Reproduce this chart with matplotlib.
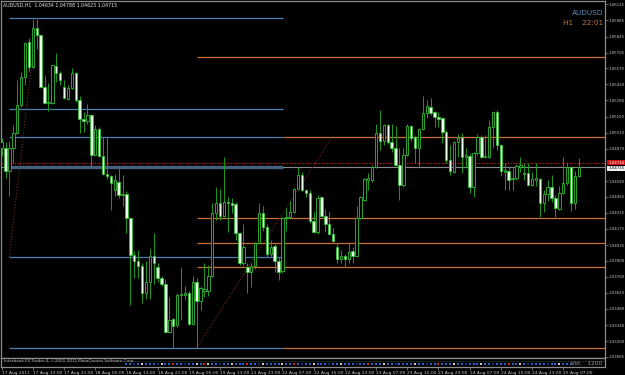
import matplotlib
matplotlib.use("Agg")
import matplotlib.pyplot as plt
import numpy as np

W, H = 625, 375

# AUDUSD H1 candles, 17 Aug 2011 05:00 -> 25 Aug 2011
opens = [1.0488, 1.0488, 1.0468, 1.0488, 1.0501, 1.0525, 1.0549, 1.0580, 1.0558, 1.0592,
         1.0586, 1.0541, 1.0527, 1.0527, 1.0559, 1.0553, 1.0541, 1.0530, 1.0540, 1.0553,
         1.0529, 1.0513, 1.0511, 1.0516, 1.0482, 1.0504, 1.0481, 1.0465, 1.0463, 1.0451,
         1.0458, 1.0447, 1.0448, 1.0427, 1.0395, 1.0390, 1.0385, 1.0362, 1.0371, 1.0394,
         1.0384, 1.0375, 1.0370, 1.0328, 1.0339, 1.0334, 1.0360, 1.0360, 1.0362, 1.0335,
         1.0371, 1.0355, 1.0364, 1.0364, 1.0377, 1.0431, 1.0440, 1.0429, 1.0441, 1.0440,
         1.0439, 1.0414, 1.0388, 1.0384, 1.0380, 1.0385, 1.0405, 1.0431, 1.0419, 1.0396,
         1.0403, 1.0390, 1.0381, 1.0427, 1.0428, 1.0432, 1.0452, 1.0464, 1.0451, 1.0449,
         1.0424, 1.0415, 1.0445, 1.0429, 1.0422, 1.0413, 1.0402, 1.0391, 1.0394, 1.0391,
         1.0398, 1.0394, 1.0427, 1.0443, 1.0460, 1.0460, 1.0471, 1.0501, 1.0494, 1.0508,
         1.0493, 1.0488, 1.0473, 1.0456, 1.0482, 1.0507, 1.0497, 1.0488, 1.0504, 1.0518,
         1.0523, 1.0519, 1.0515, 1.0514, 1.0502, 1.0477, 1.0467, 1.0493, 1.0497, 1.0480,
         1.0481, 1.0454, 1.0483, 1.0497, 1.0480, 1.0480, 1.0506, 1.0519, 1.0490, 1.0467,
         1.0468, 1.0461, 1.0462, 1.0471, 1.0465, 1.0466, 1.0456, 1.0460, 1.0461, 1.0440,
         1.0448, 1.0454, 1.0444, 1.0435, 1.0449, 1.0457, 1.0471, 1.0440, 1.04634]
highs = [1.0496, 1.0493, 1.0494, 1.0508, 1.0547, 1.0554, 1.0579, 1.0583, 1.0600, 1.0600,
         1.0587, 1.0550, 1.0544, 1.0560, 1.0570, 1.0555, 1.0547, 1.0542, 1.0557, 1.0554,
         1.0533, 1.0519, 1.0526, 1.0517, 1.0508, 1.0506, 1.0497, 1.0497, 1.0464, 1.0465,
         1.0472, 1.0464, 1.0450, 1.0428, 1.0398, 1.0399, 1.0388, 1.0390, 1.0400, 1.0414,
         1.0388, 1.0377, 1.0374, 1.0358, 1.0340, 1.0362, 1.0384, 1.0368, 1.0364, 1.0377,
         1.0375, 1.0368, 1.0388, 1.0386, 1.0440, 1.0454, 1.0452, 1.0480, 1.0445, 1.0444,
         1.0441, 1.0415, 1.0422, 1.0388, 1.0388, 1.0406, 1.0440, 1.0437, 1.0422, 1.0408,
         1.0405, 1.0393, 1.0428, 1.0436, 1.0442, 1.0453, 1.0471, 1.0467, 1.0452, 1.0451,
         1.0432, 1.0447, 1.0446, 1.0435, 1.0432, 1.0418, 1.0405, 1.0399, 1.0396, 1.0406,
         1.0402, 1.0437, 1.0446, 1.0462, 1.0466, 1.0473, 1.0509, 1.0521, 1.0509, 1.0509,
         1.0509, 1.0507, 1.0488, 1.0488, 1.0509, 1.0508, 1.0499, 1.0505, 1.0533, 1.0529,
         1.0531, 1.0520, 1.0519, 1.0515, 1.0503, 1.0490, 1.0494, 1.0500, 1.0501, 1.0488,
         1.0483, 1.0484, 1.0500, 1.0499, 1.0499, 1.0512, 1.0520, 1.0521, 1.0491, 1.0475,
         1.0472, 1.0471, 1.0474, 1.0480, 1.0475, 1.0475, 1.0467, 1.0475, 1.0462, 1.0451,
         1.0460, 1.0464, 1.0447, 1.0455, 1.0480, 1.0476, 1.0472, 1.0468, 1.04788]
lows = [1.0481, 1.0462, 1.0446, 1.0475, 1.0500, 1.0523, 1.0542, 1.0555, 1.0557, 1.0574,
        1.0540, 1.0526, 1.0520, 1.0526, 1.0545, 1.0542, 1.0530, 1.0529, 1.0539, 1.0528,
        1.0501, 1.0502, 1.0509, 1.0470, 1.0481, 1.0480, 1.0464, 1.0461, 1.0434, 1.0446,
        1.0444, 1.0437, 1.0414, 1.0351, 1.0375, 1.0375, 1.0353, 1.0357, 1.0357, 1.0370,
        1.0371, 1.0368, 1.0327, 1.0327, 1.0314, 1.0332, 1.0338, 1.0357, 1.0334, 1.0334,
        1.0314, 1.0347, 1.0358, 1.0359, 1.0376, 1.0425, 1.0425, 1.0428, 1.0415, 1.0431,
        1.0408, 1.0386, 1.0385, 1.0362, 1.0367, 1.0383, 1.0404, 1.0416, 1.0393, 1.0393,
        1.0380, 1.0373, 1.0379, 1.0416, 1.0427, 1.0431, 1.0451, 1.0450, 1.0445, 1.0423,
        1.0414, 1.0413, 1.0428, 1.0415, 1.0412, 1.0406, 1.0388, 1.0388, 1.0384, 1.0388,
        1.0388, 1.0393, 1.0426, 1.0442, 1.0451, 1.0458, 1.0470, 1.0486, 1.0490, 1.0491,
        1.0484, 1.0472, 1.0443, 1.0454, 1.0481, 1.0494, 1.0475, 1.0471, 1.0503, 1.0514,
        1.0516, 1.0506, 1.0506, 1.0492, 1.0475, 1.0464, 1.0466, 1.0480, 1.0466, 1.0470,
        1.0449, 1.0445, 1.0482, 1.0479, 1.0479, 1.0479, 1.0488, 1.0486, 1.0463, 1.0451,
        1.0451, 1.0451, 1.0460, 1.0467, 1.0460, 1.0455, 1.0455, 1.0455, 1.0428, 1.0432,
        1.0442, 1.0441, 1.0428, 1.0434, 1.0448, 1.0456, 1.0433, 1.0435, 1.04623]
closes = [1.0493, 1.0468, 1.0488, 1.0501, 1.0525, 1.0549, 1.0579, 1.0558, 1.0592, 1.0586,
          1.0541, 1.0527, 1.0528, 1.0560, 1.0553, 1.0547, 1.0531, 1.0540, 1.0553, 1.0529,
          1.0513, 1.0511, 1.0516, 1.0482, 1.0504, 1.0481, 1.0465, 1.0463, 1.0457, 1.0460,
          1.0447, 1.0448, 1.0427, 1.0395, 1.0390, 1.0385, 1.0362, 1.0371, 1.0394, 1.0388,
          1.0375, 1.0370, 1.0328, 1.0338, 1.0333, 1.0360, 1.0361, 1.0362, 1.0335, 1.0371,
          1.0355, 1.0366, 1.0365, 1.0377, 1.0431, 1.0440, 1.0429, 1.0441, 1.0440, 1.0438,
          1.0414, 1.0388, 1.0402, 1.0380, 1.0385, 1.0405, 1.0431, 1.0419, 1.0396, 1.0402,
          1.0390, 1.0380, 1.0427, 1.0428, 1.0432, 1.0452, 1.0464, 1.0451, 1.0449, 1.0424,
          1.0415, 1.0444, 1.0429, 1.0422, 1.0413, 1.0407, 1.0391, 1.0394, 1.0391, 1.0397,
          1.0394, 1.0427, 1.0445, 1.0461, 1.0462, 1.0471, 1.0501, 1.0494, 1.0508, 1.0493,
          1.0488, 1.0473, 1.0456, 1.0482, 1.0507, 1.0496, 1.0488, 1.0504, 1.0518, 1.0524,
          1.0518, 1.0515, 1.0513, 1.0502, 1.0477, 1.0468, 1.0493, 1.0496, 1.0480, 1.0482,
          1.0454, 1.0483, 1.0497, 1.0480, 1.0481, 1.0506, 1.0519, 1.0490, 1.0468, 1.0469,
          1.0460, 1.0462, 1.0472, 1.0473, 1.0466, 1.0456, 1.0461, 1.0462, 1.0440, 1.0448,
          1.0454, 1.0444, 1.0436, 1.0449, 1.0457, 1.0471, 1.0440, 1.0463, 1.04715]

# indicator squares in the volume sub-window (b blue, n navy, w pale, r red, '.' none)
vol_marks = ("................................"
             "bbnbwbbbnwbbrbbnbbwb"
             "rwbbnbbwbbbrbbnwbbbbwbbrbnbbwbbbnbb"
             "wbbbnbbrbbbwbbnbbbbwbbnbbrbbbwbbnbb"
             "bwbbnbbbrbbwbnbbbbnbbwbbb"
             "..")

price_ticks = [1.06125, 1.05985, 1.05845, 1.05705, 1.05570, 1.05430, 1.05290, 1.05150,
               1.05010, 1.04870, 1.04590, 1.04455, 1.04315, 1.04175, 1.04035, 1.03900,
               1.03760, 1.03620, 1.03480, 1.03340, 1.03200, 1.03065]
time_bars = [0, 8, 16, 24, 32, 40, 48, 56, 64, 72, 80, 88, 96, 104, 112, 120, 128, 136, 144]
time_labels = ["17 Aug 2011", "17 Aug 13:00", "17 Aug 21:00", "18 Aug 05:00", "18 Aug 13:00",
               "18 Aug 21:00", "19 Aug 05:00", "19 Aug 13:00", "21 Aug 23:00", "22 Aug 07:00",
               "22 Aug 15:00", "22 Aug 23:00", "23 Aug 07:00", "23 Aug 15:00", "23 Aug 23:00",
               "24 Aug 07:00", "24 Aug 15:00", "24 Aug 23:00", "25 Aug 07:00"]

# drawn objects: levels and zigzag legs
blue_levels = [1.06003, 1.05216, 1.04973, 1.03931, 1.03143]
blue_from, blue_to = 1.95, 72.1
orange_levels = [1.05667, 1.04267, 1.04050, 1.03841]
orange_from = 50
orange_levels2 = [1.04973, 1.03143]
orange_from2 = 72.1
bid, ask = 1.04715, 1.04744
zig1_x, zig1_y = [1.95, 9.0], [1.03931, 1.06003]
zig2_x, zig2_y = [50, 84.7], [1.03143, 1.04973]

BG = "#000000"
FRAME = "#8c8c8c"
WICK = "#1e9a1e"
EDGE = "#2fbf2f"
BEARFACE = "#eaffea"
BLUE = "#4f7fae"
ORANGE = "#c8702c"
TXT = "#c8c8c8"
MARK_COL = {"b": "#2f5fd0", "n": "#1a2a8a", "w": "#d8c8c8", "r": "#d82020"}

fig = plt.figure(figsize=(W / 100, H / 100), dpi=100, facecolor=BG)


def px_axes(x0, y0, x1, y1):
    return fig.add_axes([x0 / W, 1 - y1 / H, (x1 - x0) / W, (y1 - y0) / H])


ax = px_axes(1.3, 1.3, 605, 358)
ax.set_facecolor(BG)
XL = (-0.1, 154.7)
ax.set_xlim(*XL)
ax.set_ylim(1.03054, 1.06151)

# levels first, candles on top
for lv in blue_levels:
    ax.hlines(lv, blue_from, blue_to, color=BLUE, lw=0.9, zorder=1)
for lv in orange_levels:
    ax.hlines(lv, orange_from, XL[1], color=ORANGE, lw=0.9, zorder=1)
for lv in orange_levels2:
    ax.hlines(lv, orange_from2, XL[1], color=ORANGE, lw=0.9, zorder=1)
ax.axhline(bid, color="#8a8a8a", lw=0.8, zorder=1)
ax.hlines(bid, blue_from, blue_to, color="#46607e", lw=2.4, zorder=1)
ax.axhline(ask, color="#c01818", lw=0.8, ls=(0, (1.2, 1.2)), zorder=1)
ax.plot(zig1_x, zig1_y, color="#6e2a20", lw=0.8, ls=(0, (1, 1.6)), zorder=1)
ax.plot(zig2_x, zig2_y, color="#6e2a20", lw=0.8, ls=(0, (1, 1.6)), zorder=1)

o = np.array(opens); h = np.array(highs); l = np.array(lows); c = np.array(closes)
x = np.arange(len(o))
up = c >= o
ax.vlines(x, l, h, color=WICK, lw=0.7, zorder=2)
body_lo = np.minimum(o, c)
body_h = np.maximum(np.abs(c - o), 0.00003)
ax.bar(x[up], body_h[up], 0.62, body_lo[up], color=BG, edgecolor=EDGE, lw=0.6, zorder=3)
ax.bar(x[~up], body_h[~up], 0.62, body_lo[~up], color=BEARFACE, edgecolor=EDGE, lw=0.6, zorder=3)

for s in ax.spines.values():
    s.set_color(FRAME); s.set_linewidth(0.9)
ax.set_xticks([])
ax.yaxis.tick_right()
ax.set_yticks(price_ticks)
ax.set_yticklabels([f"{p:.5f}" for p in price_ticks])
ax.tick_params(axis="y", colors=FRAME, labelcolor=TXT, labelsize=2.8, length=2, width=0.5, pad=0.8)

# bid / ask boxes on the price scale
ax.annotate(f"{ask:.5f}", xy=(1.0, ask), xycoords=("axes fraction", "data"), xytext=(2.2, 0.5),
            textcoords="offset points", fontsize=2.8, color="white", va="center", ha="left",
            bbox=dict(boxstyle="square,pad=0.2", fc="#d01010", ec="none"), annotation_clip=False)
ax.annotate(f"{bid:.5f}", xy=(1.0, bid), xycoords=("axes fraction", "data"), xytext=(2.2, -1.2),
            textcoords="offset points", fontsize=2.8, color="black", va="center", ha="left",
            bbox=dict(boxstyle="square,pad=0.2", fc="#f0f0f0", ec="none"), annotation_clip=False)

fig.text(3 / W, 1 - 5.5 / H, "AUDUSD,H1  1.04634 1.04788 1.04623 1.04715", fontsize=3.4,
         color="#e6e6e6", va="center", ha="left")
fig.text(603 / W, 1 - 12.7 / H, "AUDUSD", fontsize=5.2, color="#5f8fbf", va="center", ha="right")
fig.text(603 / W, 1 - 23.3 / H, "H1    22:01", fontsize=5.2, color="#c8782c", va="center", ha="right")

# volume sub-window
ax2 = px_axes(1.3, 358, 605, 367)
ax2.set_facecolor(BG)
ax2.set_xlim(*XL)
ax2.set_ylim(0, 1)
ax2.axhline(0.62, color="#1f5a1f", lw=0.6, ls=(0, (1, 1)))
for code, col in MARK_COL.items():
    idx = [i for i, m in enumerate(vol_marks) if m == code]
    ax2.scatter(idx, [0.32] * len(idx), s=4, marker="s", color=col, linewidths=0)
for s in ax2.spines.values():
    s.set_color(FRAME); s.set_linewidth(0.9)
ax2.set_yticks([])
ax2.set_xticks(time_bars)
ax2.set_xticklabels(time_labels, ha="left")
ax2.tick_params(axis="x", colors=FRAME, labelcolor=TXT, labelsize=3.2, length=2, width=0.5, pad=0.6)
ax2.text(0.005, 0.62, "Interbank FX Trader 4, \u00a92001-2011 MetaQuotes Software Corp.",
         transform=ax2.transAxes, fontsize=3, color="#b0b0b0", va="center", ha="left")
ax2.text(0.995, 0.4, "Vol:   1200", transform=ax2.transAxes, fontsize=4.2, color="#a0a0a0",
         va="center", ha="right")

fig.savefig("out.png", dpi=100, facecolor=BG)
